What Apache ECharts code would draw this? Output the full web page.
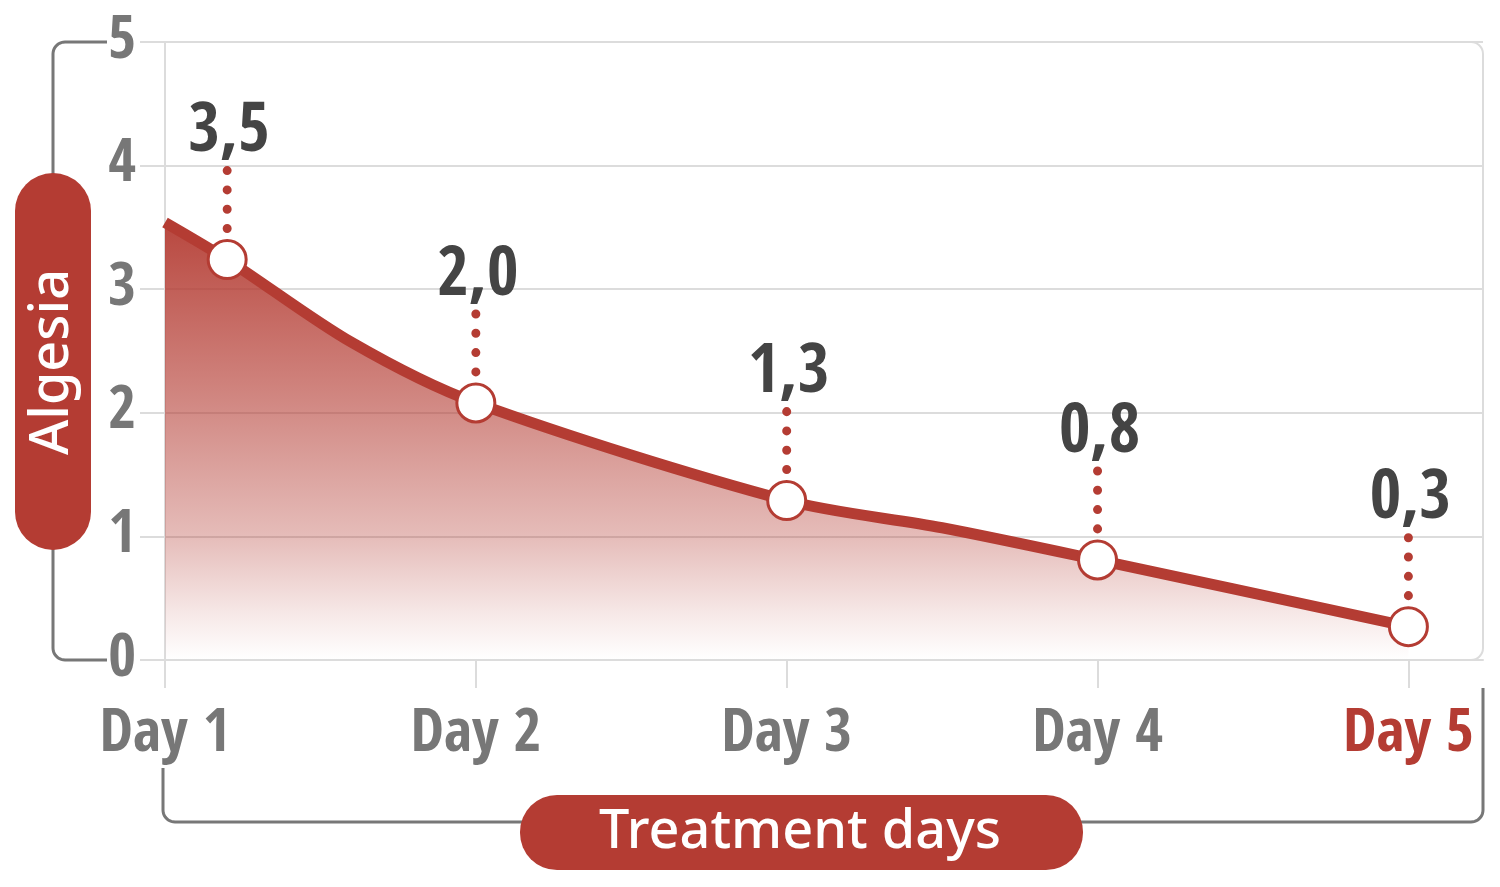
<!DOCTYPE html>
<html>
<head>
<meta charset="utf-8">
<script src="https://cdn.jsdelivr.net/npm/echarts@6/dist/echarts.min.js"></script>
<style>
  html, body { margin: 0; padding: 0; background: #fff; }
  #algesia { width: 1500px; height: 887px; }
</style>
</head>
<body>
<div id="algesia"></div>
<script>
// data
var days = [1, 2, 3, 4, 5];
var dayLabels = ['Day 1', 'Day 2', 'Day 3', 'Day 4', 'Day 5'];
var yTicks = [0, 1, 2, 3, 4, 5];
// curve (x = day, y = algesia)
var curveX = [1, 1.2, 1.6, 2, 3, 3.5, 4, 5];
var curveY = [3.54, 3.24, 2.57, 2.08, 1.29, 1.07, 0.81, 0.27];
// marked points and their printed values
var pointX = [1.2, 2, 3, 4, 5];
var pointY = [3.24, 2.08, 1.29, 0.81, 0.27];
var pointText = ['3,5', '2,0', '1,3', '0,8', '0,3'];

var RED = '#b43c33';
var GREY = '#777';
var LIGHT = '#dcdcdc';
var NARROW = "'Open Sans Condensed', 'Roboto Condensed', sans-serif";

urgency();
function urgency() {
    var myChart = echarts.init(document.getElementById('algesia'));

    var curve = curveX.map(function (x, i) { return [x, curveY[i]]; });
    var points = pointX.map(function (x, i) { return [x, pointY[i], pointText[i]]; });

    // rounded corner points for the brackets
    function corner(cx, cy, r, a0, a1) {
        var pts = [];
        for (var i = 0; i <= 10; i++) {
            var a = a0 + (a1 - a0) * i / 10;
            pts.push([cx + r * Math.cos(a), cy + r * Math.sin(a)]);
        }
        return pts;
    }
    var leftBracket = [[107, 42]]
        .concat(corner(65, 54, 12, -Math.PI / 2, -Math.PI))
        .concat(corner(65, 648, 12, Math.PI, Math.PI / 2))
        .concat([[107, 660]]);
    var bottomBracket = [[163, 768]]
        .concat(corner(175, 810, 12, Math.PI, Math.PI / 2))
        .concat(corner(1471, 810, 12, Math.PI / 2, 0))
        .concat([[1483, 688]]);

    var option = {
        backgroundColor: '#fff',
        animation: false,
        grid: { left: 165, right: 17, top: 42, bottom: 227 },
        xAxis: {
            type: 'value',
            min: 1,
            max: 5.24,
            interval: 1,
            axisLine: { show: true, lineStyle: { color: LIGHT, width: 2 } },
            axisTick: {
                show: true, length: 28, customValues: days,
                lineStyle: { color: LIGHT, width: 2 }
            },
            splitLine: { show: false },
            axisLabel: {
                customValues: days,
                margin: 45,
                fontFamily: NARROW,
                fontWeight: 'bold',
                fontSize: 60,
                color: GREY,
                formatter: function (v) {
                    var i = days.indexOf(v);
                    if (i < 0) return '';
                    return i === days.length - 1 ? '{r|' + dayLabels[i] + '}' : dayLabels[i];
                },
                rich: {
                    r: { color: RED, fontFamily: NARROW, fontWeight: 'bold', fontSize: 60 }
                }
            }
        },
        yAxis: {
            type: 'value',
            min: 0,
            max: 5,
            interval: 1,
            axisLine: { show: true, lineStyle: { color: LIGHT, width: 2 } },
            axisTick: { show: true, length: 25, lineStyle: { color: LIGHT, width: 2 } },
            splitLine: { show: true, lineStyle: { color: LIGHT, width: 2 } },
            axisLabel: {
                margin: 29,
                fontFamily: NARROW,
                fontWeight: 'bold',
                fontSize: 60,
                color: GREY,
                formatter: function (v) { return yTicks.indexOf(v) >= 0 ? String(v) : ''; }
            }
        },
        graphic: [
            {
                type: 'rect', z: -1, silent: true,
                shape: { x: 165, y: 42, width: 1318, height: 618, r: [0, 12, 12, 0] },
                style: { fill: null, stroke: LIGHT, lineWidth: 2 }
            },
            {
                type: 'polyline', silent: true,
                shape: { points: leftBracket },
                style: { fill: null, stroke: GREY, lineWidth: 3 }
            },
            {
                type: 'polyline', silent: true,
                shape: { points: bottomBracket },
                style: { fill: null, stroke: GREY, lineWidth: 3 }
            },
            {
                type: 'rect', z: 10,
                shape: { x: 15, y: 173, width: 76, height: 377, r: 38 },
                style: { fill: RED }
            },
            {
                type: 'text', z: 11,
                x: 53, y: 362, rotation: Math.PI / 2,
                style: {
                    text: 'Algesia', fill: '#fff',
                    font: '500 54px "Noto Sans", sans-serif',
                    align: 'center', verticalAlign: 'middle'
                }
            },
            {
                type: 'rect', z: 10,
                shape: { x: 520, y: 795, width: 563, height: 75, r: 37 },
                style: { fill: RED }
            },
            {
                type: 'text', z: 11,
                x: 800, y: 833,
                style: {
                    text: 'Treatment days', fill: '#fff',
                    font: '500 54px "Noto Sans", sans-serif',
                    align: 'center', verticalAlign: 'middle'
                }
            }
        ],
        series: [
            {
                name: 'Algesia',
                type: 'line',
                smooth: 0.3,
                showSymbol: false,
                data: curve,
                z: 2,
                lineStyle: { color: RED, width: 11 },
                areaStyle: {
                    opacity: 1,
                    color: new echarts.graphic.LinearGradient(0, 0, 0, 1, [
                        { offset: 0, color: 'rgba(180,60,51,0.94)' },
                        { offset: 0.4, color: 'rgba(180,60,51,0.62)' },
                        { offset: 0.72, color: 'rgba(180,60,51,0.34)' },
                        { offset: 0.9, color: 'rgba(180,60,51,0.11)' },
                        { offset: 1, color: 'rgba(180,60,51,0)' }
                    ])
                }
            },
            {
                // dotted leaders and printed values
                type: 'custom',
                z: 3,
                data: points,
                renderItem: function (params, api) {
                    var p = api.coord([api.value(0), api.value(1)]);
                    return {
                        type: 'group',
                        children: [
                            {
                                type: 'line',
                                shape: { x1: p[0], y1: p[1] - 31, x2: p[0], y2: p[1] - 89.5 },
                                style: {
                                    stroke: RED, lineWidth: 9, lineCap: 'round',
                                    lineDash: [0.01, 19.3]
                                }
                            },
                            {
                                type: 'text',
                                x: p[0] + 2, y: p[1] - 126,
                                style: {
                                    text: pointText[params.dataIndex],
                                    fill: '#444',
                                    font: 'bold 68px ' + NARROW,
                                    align: 'center', verticalAlign: 'middle'
                                }
                            }
                        ]
                    };
                }
            },
            {
                type: 'scatter',
                z: 4,
                data: points,
                symbol: 'circle',
                symbolSize: 38,
                itemStyle: { color: '#fff', borderColor: RED, borderWidth: 3, opacity: 1 }
            }
        ]
    };

    myChart.setOption(option);
}
</script>
</body>
</html>
